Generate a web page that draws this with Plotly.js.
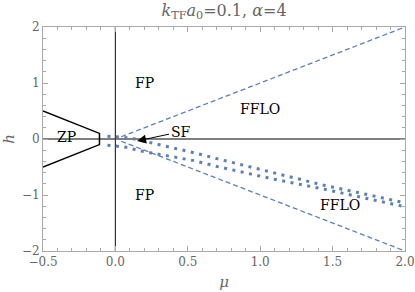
<!DOCTYPE html>
<html>
<head>
<meta charset="utf-8">
<script src="https://cdn.plot.ly/plotly-3.0.1.min.js"></script>
<style>
  html, body { margin: 0; padding: 0; background: #fff; }
  #chart { width: 415px; height: 292px; }
</style>
</head>
<body>
<div id="chart"></div>
<script>
// phase boundaries
let zpMu = [-0.5, -0.11, -0.11, -0.5];
let zpH = [0.5, 0.1, -0.1, -0.5];

let axisMu = [-0.5, 2];
let axisH = [0, 0];
let vertMu = [0, 0];
let vertH = [-2, 2];

let dashMu = [0.04, 2];
let dashUpH = [0.04, 2];
let dashLowH = [-0.04, -2];

let dotMu = [-0.055, 0, 0.05, 0.1, 0.15, 0.25, 0.35, 0.45, 0.55, 0.7, 0.9, 1.1, 1.43, 1.7, 2.0];
let dotUpH = [0.05, 0.04, 0.03, 0.02, -0.01, -0.07, -0.12, -0.19, -0.25, -0.35, -0.48, -0.6, -0.82, -0.97, -1.14];
let dotLowH = [-0.11, -0.12, -0.14, -0.16, -0.2, -0.25, -0.3, -0.35, -0.39, -0.49, -0.61, -0.72, -0.89, -1.04, -1.21];

let regionText = ["FP", "FP", "ZP", "FFLO", "FFLO"];
let regionMu = [0.2, 0.2, -0.34, 1.0, 1.55];
let regionH = [1.0, -1.0, 0.03, 0.53, -1.18];

let blue = 'rgb(94,129,181)';
let serif = 'DejaVu Serif';

let traces = [
    {x: zpMu, y: zpH, mode: 'lines', line: {color: 'black', width: 1.5}},
    {x: axisMu, y: axisH, mode: 'lines', line: {color: 'black', width: 1.2}},
    {x: vertMu, y: vertH, mode: 'lines', line: {color: '#333', width: 1.2}},
    {x: dashMu, y: dashUpH, mode: 'lines', line: {color: blue, width: 1.3, dash: '5px,3px'}},
    {x: dashMu, y: dashLowH, mode: 'lines', line: {color: blue, width: 1.3, dash: '5px,3px'}},
    {x: dotMu, y: dotUpH, mode: 'lines', line: {color: blue, width: 3, dash: '3px,5.5px'}},
    {x: dotMu, y: dotLowH, mode: 'lines', line: {color: blue, width: 3, dash: '3px,5.5px'}}
];

let annotations = regionText.map((t, i) => ({
    x: regionMu[i], y: regionH[i], text: t, showarrow: false,
    font: {family: serif, size: 14, color: 'black'}
}));

annotations.push({
    x: 0.15, y: -0.035, xref: 'x', yref: 'y',
    ax: 0.45, ay: 0.13, axref: 'x', ayref: 'y',
    text: 'SF', showarrow: true, arrowhead: 2, arrowsize: 1.8, arrowwidth: 1,
    arrowcolor: 'black', font: {family: serif, size: 14, color: 'black'}
});

let tickFont = {family: serif, size: 12, color: '#666'};

let axisCommon = {
    showgrid: false, zeroline: false, showline: true, linecolor: '#aaa', linewidth: 1,
    mirror: 'allticks', ticks: 'inside', ticklen: 5, tickcolor: '#aaa', tickfont: tickFont
};

let layout = {
    width: 415, height: 292,
    margin: {l: 43, r: 10, t: 27, b: 41},
    showlegend: false,
    font: {family: serif},
    plot_bgcolor: 'white', paper_bgcolor: 'white',
    title: {
        text: '<i>k</i><sub>TF</sub><i>a</i><sub>0</sub>=0.1, <i>α</i>=4',
        font: {family: serif, size: 16, color: '#666'},
        x: 0.54, xanchor: 'center', y: 0.985, yanchor: 'top'
    },
    xaxis: Object.assign({}, axisCommon, {
        range: [-0.5, 2], dtick: 0.5, tickformat: '.1f',
        minor: {dtick: 0.1, ticks: 'inside', ticklen: 3, tickcolor: '#aaa'},
        title: {text: '<i>μ</i>', font: {family: serif, size: 15, color: '#666'}, standoff: 8}
    }),
    yaxis: Object.assign({}, axisCommon, {
        range: [-2, 2], dtick: 1,
        minor: {dtick: 0.2, ticks: 'inside', ticklen: 3, tickcolor: '#aaa'},
        title: {text: '<i>h</i>', font: {family: serif, size: 15, color: '#666'}, standoff: 10}
    }),
    annotations: annotations
};

Plotly.newPlot('chart', traces, layout, {displayModeBar: false, staticPlot: true});
</script>
</body>
</html>
